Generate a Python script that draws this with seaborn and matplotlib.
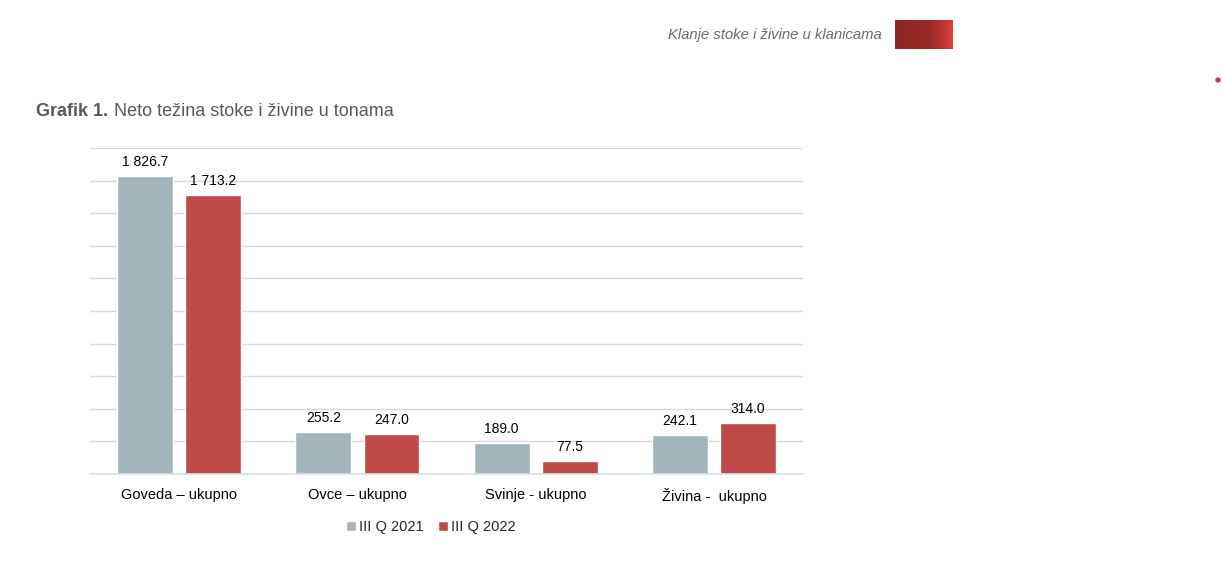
import numpy as np
import pandas as pd
import matplotlib.pyplot as plt
import matplotlib.patches as mpatches
from matplotlib.colors import LinearSegmentedColormap
import seaborn as sns

# data
categories = ['Goveda – ukupno', 'Ovce – ukupno', 'Svinje - ukupno', 'Živina -  ukupno']
series = ['III Q 2021', 'III Q 2022']
values_2021 = [1826.7, 255.2, 189.0, 242.1]
values_2022 = [1713.2, 247.0, 77.5, 314.0]
colors = ['#A3B4BA', '#BE4B48']

df = pd.DataFrame({
    'kategorija': categories * 2,
    'period': [series[0]] * 4 + [series[1]] * 4,
    'tona': values_2021 + values_2022,
})

sns.set_theme(style='white')
plt.rcParams['font.family'] = ['Liberation Sans', 'DejaVu Sans']

fig = plt.figure(figsize=(12.22, 5.72), dpi=100)
ax = fig.add_axes([0.0737, 0.1713, 0.5835, 0.570])

sns.barplot(data=df, x='kategorija', y='tona', hue='period', palette=colors,
            width=0.765, gap=0.18, saturation=1, ax=ax, legend=True)

ax.set_ylim(0, 2000)
ax.set_yticks(np.arange(0, 2001, 200))
ax.yaxis.grid(True, color='#d9d9d9', linewidth=1)
ax.set_axisbelow(True)
ax.tick_params(axis='y', left=False, labelleft=False)
ax.tick_params(axis='x', bottom=False, labelsize=10.5, pad=4, colors='#000000')
for s in ['top', 'right', 'left']:
    ax.spines[s].set_visible(False)
ax.spines['bottom'].set_color('#d6e0ea')
ax.spines['bottom'].set_linewidth(1.2)
ax.set_xlabel('')
ax.set_ylabel('')

for cont in ax.containers:
    ax.bar_label(cont, labels=[f'{v:,.1f}'.replace(',', ' ') for v in cont.datavalues],
                 padding=5, fontsize=10, color='#000000')

leg = ax.legend(loc='upper center', bbox_to_anchor=(0.478, -0.10), ncol=2, frameon=False,
                fontsize=10.5, handlelength=0.7, handleheight=0.7, handletextpad=0.2,
                columnspacing=1.0)

# header
fig.text(882 / 1222, 1 - 35 / 572, 'Klanje stoke i živine u klanicama', ha='right', va='center',
         fontsize=10.75, style='italic', color='#6b6b6b')
grad_ax = fig.add_axes([895 / 1222, 1 - 49 / 572, 57 / 1222, 29 / 572])
grad = np.linspace(0, 1, 100).reshape(1, -1)
cmap = LinearSegmentedColormap.from_list(
    'hdr', [(0, '#8f2624'), (0.6, '#982a27'), (0.85, '#c03532'), (1, '#dc403d')])
grad_ax.imshow(grad, aspect='auto', cmap=cmap)
grad_ax.axis('off')

fig.text(36 / 1222, 1 - 111 / 572, 'Grafik 1.', ha='left', va='center', fontsize=13,
         fontweight='bold', color='#595959')
fig.text(114 / 1222, 1 - 111 / 572, 'Neto težina stoke i živine u tonama', ha='left',
         va='center', fontsize=13, color='#595959')

fig.add_artist(mpatches.Ellipse((1218 / 1222, 1 - 80 / 572), 4 / 1222, 4 / 572,
                                color='#e03c3c', transform=fig.transFigure))

fig.savefig('out.png', dpi=100)
